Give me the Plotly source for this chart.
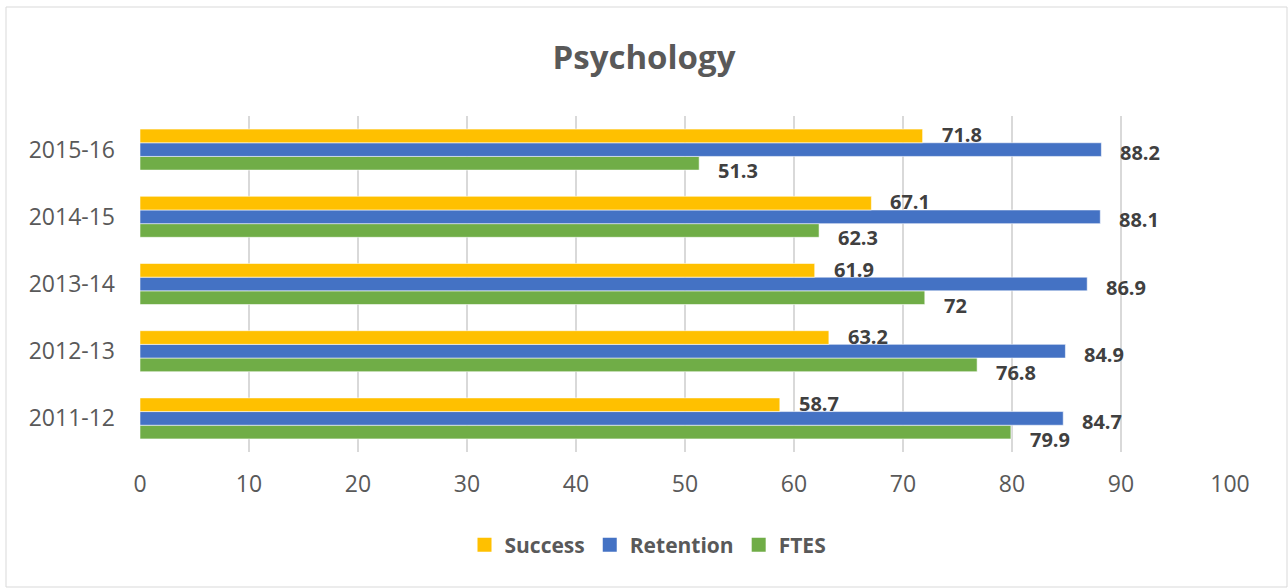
import plotly.graph_objects as go

# Academic years, bottom to top
years = ["2011-12", "2012-13", "2013-14", "2014-15", "2015-16"]

success = [58.7, 63.2, 61.9, 67.1, 71.8]
retention = [84.7, 84.9, 86.9, 88.1, 88.2]
ftes = [79.9, 76.8, 72, 62.3, 51.3]

x_ticks = [0, 10, 20, 30, 40, 50, 60, 70, 80, 90, 100]

W, H = 1288, 588
L, R, T, B = 140, 58, 116, 136
plot_w = W - L - R
plot_h = H - T - B

FONT = "Open Sans"
GREY = "#595959"
DARK = "#404040"

# (name, values, colour, legend rank, label vertical shift in px)
series = [
    ("FTES", ftes, "#70AD47", 3, -21),
    ("Retention", retention, "#4472C4", 2, -3),
    ("Success", success, "#FFC000", 1, 15),
]

fig = go.Figure()
annotations = []
for name, vals, color, rank, yshift in series:
    fig.add_trace(go.Bar(
        y=years, x=vals, name=name, orientation="h",
        marker=dict(color=color, line=dict(color="rgba(255,255,255,0.55)", width=1)),
        showlegend=False,
    ))
    # square legend swatch
    fig.add_trace(go.Scatter(
        x=[None], y=[None], mode="markers", name=name, legendrank=rank,
        marker=dict(symbol="square", size=14, color=color),
    ))
    for yr, v in zip(years, vals):
        annotations.append(dict(
            x=v, y=yr, xref="x", yref="y", text=f"{v:g}", showarrow=False,
            xanchor="left", yanchor="middle", xshift=17, yshift=yshift,
            font=dict(family=FONT, size=20, color=DARK, weight="bold"),
        ))

# Chart-area border
def px_x(px):
    return (px - L) / plot_w

def px_y(py):
    return (H - B - py) / plot_h

shapes = [dict(
    type="rect", xref="paper", yref="paper",
    x0=px_x(6), x1=px_x(1287), y0=px_y(587), y1=px_y(7),
    line=dict(color="#D9D9D9", width=1), fillcolor="rgba(0,0,0,0)", layer="below",
)]

fig.update_layout(
    width=W, height=H,
    margin=dict(l=L, r=R, t=T, b=B, pad=0, autoexpand=False),
    paper_bgcolor="white", plot_bgcolor="white",
    barmode="group", bargap=0.39, bargroupgap=0,
    title=dict(
        text="Psychology", x=644 / W, xref="container", xanchor="center",
        y=1 - 57 / H, yanchor="middle",
        font=dict(family=FONT, size=33, color=GREY, weight="bold"),
    ),
    xaxis=dict(
        range=[0, 100], tickvals=x_ticks, showgrid=True, gridcolor="#D9D9D9", gridwidth=2,
        zeroline=False, showline=False, ticks="",
        tickfont=dict(family=FONT, size=23, color=GREY), ticklabelstandoff=16,
    ),
    yaxis=dict(
        type="category", categoryorder="array", categoryarray=years, range=[-0.5, 4.5],
        showgrid=False, zeroline=False, showline=False, ticks="",
        tickfont=dict(family=FONT, size=23, color=GREY), ticklabelstandoff=24,
    ),
    legend=dict(
        orientation="h", x=px_x(648), xanchor="center", y=px_y(545), yanchor="middle",
        font=dict(family=FONT, size=21, color=GREY, weight="bold"),
        itemwidth=30, tracegroupgap=0,
    ),
    annotations=annotations,
    shapes=shapes,
    showlegend=True,
)

fig.write_html("out.html")
